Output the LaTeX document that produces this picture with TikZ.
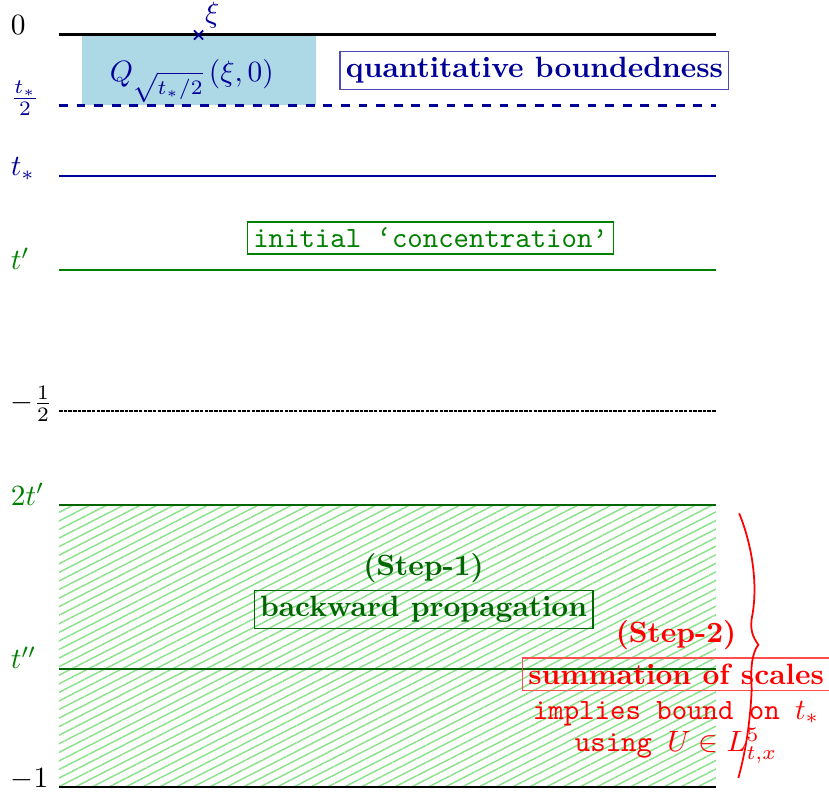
\documentclass[tikz,border=0pt]{standalone}
\usetikzlibrary{positioning, patterns.meta, shapes.misc}
\definecolor{qfill}{RGB}{173,216,230}
\definecolor{hatchgreen}{RGB}{140,225,140}
\colorlet{tblue}{blue!60!black}
\colorlet{tgreen}{green!50!black}
\colorlet{sgreen}{green!40!black}

\begin{document}
\begin{tikzpicture}[x=1cm, y=9cm,
        level/.style={anchor=base west},
        framed/.style={draw, inner sep=2pt}]

        \useasboundingbox (-0.706,0.0465) rectangle (9.215,-1.0053);

        % regions
        \fill [pattern={Lines[angle=27, distance=2.6pt, line width=0.5pt]}, pattern color=hatchgreen]
        (0,-0.625) rectangle (7.86,-1);
        \fill [qfill] (0.27,0) rectangle (3.07,-0.09375);

        % levels
        \draw [line width=1pt] (0,0) -- (7.86,0);
        \draw [tblue, thick, dashed] (0,-0.09375) -- (7.86,-0.09375);
        \draw [tblue, semithick] (0,-0.1875) -- (7.86,-0.1875);
        \draw [tgreen, semithick] (0,-0.3125) -- (7.86,-0.3125);
        \draw [line width=0.35pt, dash pattern=on 1.2pt off 0.4pt] (0,-0.5) -- (7.86,-0.5);
        \draw [sgreen, thick] (0,-0.625) -- (7.86,-0.625);
        \draw [sgreen, thin] (0,-0.843) -- (7.86,-0.843);
        \draw [line width=1pt] (0,-1) -- (7.86,-1);

        %   labels
        \foreach \t/\l/\c [count=\i] in {0/0/black, -0.09375/\frac{t_*}{2}/tblue, -0.1875/t_*/tblue, -0.3125/t'/tgreen, -0.5/-\frac{1}{2}/black, -0.625/2t'/tgreen, -0.843/t''/tgreen, -1/-1/black}
        \node [level, text=\c] (level-\i) at (-0.7,\t) {$\l$};

        % point and cylinder
        \node [cross out, draw=tblue, minimum size=2.5pt, inner sep=0pt, semithick] (xi) at (1.67,0) {};
        \node [above right, inner sep=2pt, text=tblue] (xi-label) at (xi.center) {$\xi$};
        \node [anchor=base, text=tblue] (cylinder) at (1.59,-0.0625) {$Q_{\sqrt{t_*/2}}\,(\xi,0)$};

        % texts
        \node [framed, draw=tblue!70, text=tblue, font=\bfseries] (bounded) at (5.69,-0.0472) {quantitative boundedness};
        \node [framed, draw=tgreen, text=tgreen, font=\ttfamily] (concentration) at (4.447,-0.27) {initial ‘concentration’};

        \node [framed, draw=sgreen, text=sgreen, font=\bfseries] (backward) at (4.363,-0.764) {backward propagation};
        \node [above=-1pt of backward, text=sgreen, font=\bfseries] (step-1) {(Step-1)};

        \node [framed, draw=red!70, text=red, font=\bfseries] (summation) at (7.385,-0.85) {summation of scales};
        \node [above=-1pt of summation, text=red, font=\bfseries] (step-2) {(Step-2)};
        \node [below=0pt of summation, text=red, font=\ttfamily, align=center] (bound) {implies bound on $t_*$\\[-1pt] using $U\in L^5_{t,x}$};

        % brace
        \draw [red, semithick] (8.14,-0.636) .. controls (8.30,-0.68) and (8.36,-0.73) .. (8.30,-0.77)
        .. controls (8.26,-0.79) and (8.30,-0.80) .. (8.37,-0.811)
        .. controls (8.30,-0.82) and (8.27,-0.84) .. (8.29,-0.87)
        .. controls (8.27,-0.92) and (8.20,-0.96) .. (8.13,-0.988);

    \end{tikzpicture}
\end{document}
